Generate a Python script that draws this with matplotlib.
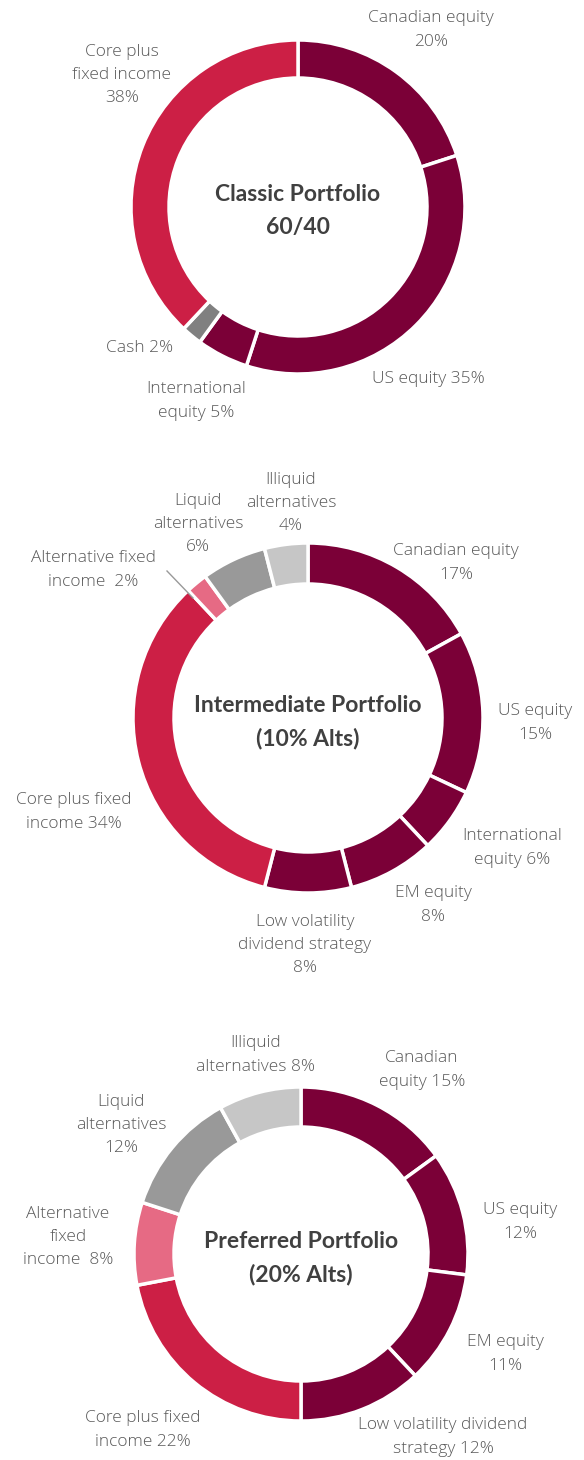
import matplotlib
matplotlib.use("Agg")
import matplotlib.pyplot as plt

# colores
MAROON = '#7b0037'
RED = '#cc1f45'
PINK = '#e66a84'
CASH = '#808080'
LIQ = '#999999'
ILLIQ = '#c6c6c6'

# ===== Datos =====
classic_labels = ["Canadian equity", "US equity", "International equity", "Cash", "Core plus fixed income"]
classic_values = [20, 35, 5, 2, 38]
classic_colors = [MAROON, MAROON, MAROON, CASH, RED]

inter_labels = ["Canadian equity", "US equity", "International equity", "EM equity",
                "Low volatility dividend strategy", "Core plus fixed income",
                "Alternative fixed income", "Liquid alternatives", "Illiquid alternatives"]
inter_values = [17, 15, 6, 8, 8, 34, 2, 6, 4]
inter_colors = [MAROON, MAROON, MAROON, MAROON, MAROON, RED, PINK, LIQ, ILLIQ]

pref_labels = ["Canadian equity", "US equity", "EM equity", "Low volatility dividend strategy",
               "Core plus fixed income", "Alternative fixed income",
               "Liquid alternatives", "Illiquid alternatives"]
pref_values = [15, 12, 11, 12, 22, 8, 12, 8]
pref_colors = [MAROON, MAROON, MAROON, MAROON, RED, PINK, LIQ, ILLIQ]

W, H = 584, 1460
fig = plt.figure(figsize=(W / 100, H / 100), dpi=100)
ax = fig.add_axes([0, 0, 1, 1])

TXT = '#595959'
TITLE = '#404040'


def donut(values, colors, cx, cy, r, width, title):
    ax.pie(values, colors=colors, startangle=90, counterclock=False,
           center=(cx, H - cy), radius=r,
           wedgeprops=dict(width=width, edgecolor='white', linewidth=2.5))
    # titulo un poco mas abajo que el centro
    ax.text(cx, H - cy - 4, title, ha='center', va='center', fontsize=16.5,
            fontweight='bold', color=TITLE, family=['Lato', 'DejaVu Sans'],
            linespacing=1.65)


def etiqueta(x, y, s):
    ax.text(x, H - y, s, ha='center', va='center', fontsize=12.5, color=TXT,
            family=['Open Sans', 'DejaVu Sans'], fontweight='light', linespacing=1.6)


# ===== Classic =====
donut(classic_values, classic_colors, 298, 207, 167, 38, "Classic Portfolio\n60/40")
etiqueta(431, 30, f"Canadian equity\n{classic_values[0]}%")
etiqueta(428, 379, f"US equity {classic_values[1]}%")
etiqueta(196, 401, f"International\nequity {classic_values[2]}%")
etiqueta(140, 348, f"Cash {classic_values[3]}%")
etiqueta(122, 75, f"Core plus\nfixed income\n{classic_values[4]}%")

# ===== Intermediate =====
donut(inter_values, inter_colors, 308, 718, 175, 41, "Intermediate Portfolio\n(10% Alts)")
etiqueta(456, 563, f"Canadian equity\n{inter_values[0]}%")
etiqueta(535, 723, f"US equity\n{inter_values[1]}%")
etiqueta(512, 848, f"International\nequity {inter_values[2]}%")
etiqueta(433, 905, f"EM equity\n{inter_values[3]}%")
etiqueta(305, 945, f"Low volatility\ndividend strategy\n{inter_values[4]}%")
etiqueta(74, 812, f"Core plus fixed\nincome {inter_values[5]}%")
etiqueta(93, 570, f"Alternative fixed\nincome  {inter_values[6]}%")
etiqueta(198, 524, f"Liquid\nalternatives\n{inter_values[7]}%")
etiqueta(291, 503, f"Illiquid\nalternatives\n{inter_values[8]}%")
ax.plot([167, 193], [H - 571, H - 598], color='#999999', linewidth=1)

# ===== Preferred =====
donut(pref_values, pref_colors, 301, 1254, 167, 40, "Preferred Portfolio\n(20% Alts)")
etiqueta(422, 1070, f"Canadian\nequity {pref_values[0]}%")
etiqueta(520, 1222, f"US equity\n{pref_values[1]}%")
etiqueta(505, 1354, f"EM equity\n{pref_values[2]}%")
etiqueta(443, 1437, f"Low volatility dividend\nstrategy {pref_values[3]}%")
etiqueta(143, 1430, f"Core plus fixed\nincome {pref_values[4]}%")
etiqueta(68, 1237, f"Alternative\nfixed\nincome  {pref_values[5]}%")
etiqueta(121, 1125, f"Liquid\nalternatives\n{pref_values[6]}%")
etiqueta(256, 1055, f"Illiquid\nalternatives {pref_values[7]}%")

ax.set_xlim(0, W)
ax.set_ylim(0, H)
ax.set_aspect('equal')
ax.axis('off')

plt.savefig("out.png", dpi=100, facecolor='white')
